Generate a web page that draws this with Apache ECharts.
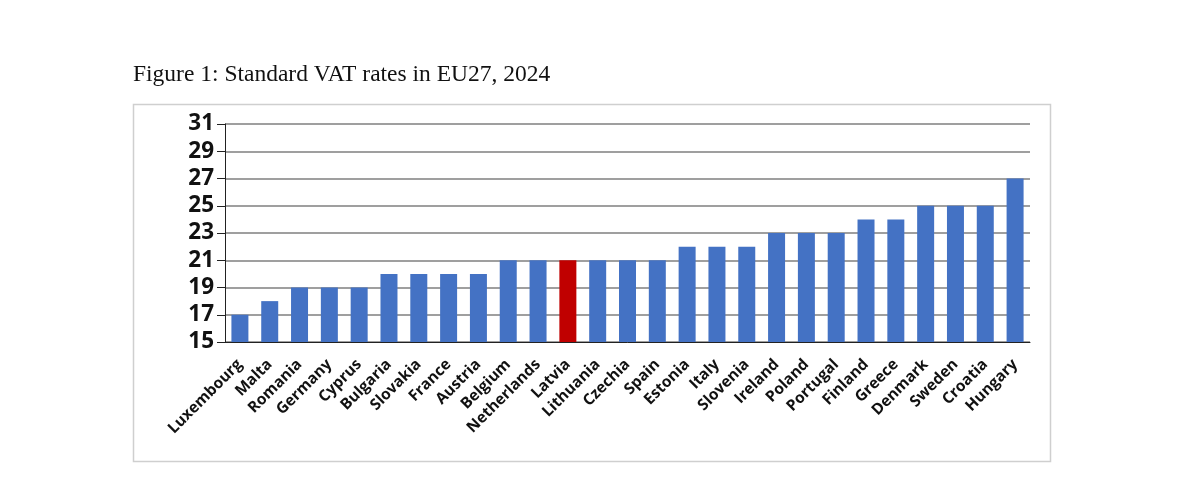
<!DOCTYPE html>
<html><head><meta charset="utf-8">
<script src="https://cdn.jsdelivr.net/npm/echarts@6/dist/echarts.min.js"></script>
<style>html,body{margin:0;padding:0;background:#fff}#c{width:1183px;height:481px}</style>
</head><body><div id="c"></div>
<script>
const countries = ["Luxembourg","Malta","Romania","Germany","Cyprus","Bulgaria","Slovakia","France","Austria","Belgium","Netherlands","Latvia","Lithuania","Czechia","Spain","Estonia","Italy","Slovenia","Ireland","Poland","Portugal","Finland","Greece","Denmark","Sweden","Croatia","Hungary"];
const vatRates = [17,18,19,19,19,20,20,20,20,21,21,21,21,21,21,22,22,22,23,23,23,24,24,25,25,25,27];
const highlight = "Latvia";
const yTicks = [15,17,19,21,23,25,27,29,31];

const chart = echarts.init(document.getElementById('c'), null, {renderer:'canvas'});
chart.setOption({
  animation:false,
  title:{text:"Figure 1: Standard VAT rates in EU27, 2024", left:128, top:58,
    textStyle:{fontFamily:"Liberation Serif", fontWeight:'normal', fontSize:23.5, color:'#111'}},
  graphic:[{type:'rect', left:131, top:102, shape:{width:917, height:357},
    style:{fill:'none', stroke:'#cfcfcf', lineWidth:1.5}, z:-1}],
  grid:{left:225, right:153, top:124, bottom:139},
  xAxis:{type:'category', data:countries,
    axisLine:{lineStyle:{color:'#222', width:1}},
    axisTick:{alignWithLabel:false, length:7, lineStyle:{color:'#222'}},
    axisLabel:{rotate:45, interval:0, margin:20, fontFamily:"Open Sans", fontWeight:'bold', fontSize:15.5, color:'#111'}},
  yAxis:{type:'value', min:yTicks[0], max:yTicks[yTicks.length-1], interval:2,
    axisLine:{show:true, lineStyle:{color:'#222'}},
    axisTick:{show:true, inside:false, length:8, lineStyle:{color:'#222'}},
    axisLabel:{margin:11, fontFamily:"Open Sans", fontWeight:'bold', fontSize:22.5, color:'#111'},
    splitLine:{lineStyle:{color:'#7f7f7f', width:1.5}}},
  series:[{type:'bar', barWidth:'57%',
    data: vatRates.map((v,i)=>({value:v, itemStyle:{color: countries[i]===highlight ? '#c00000' : '#4472c4'}}))}]
});
</script></body></html>
